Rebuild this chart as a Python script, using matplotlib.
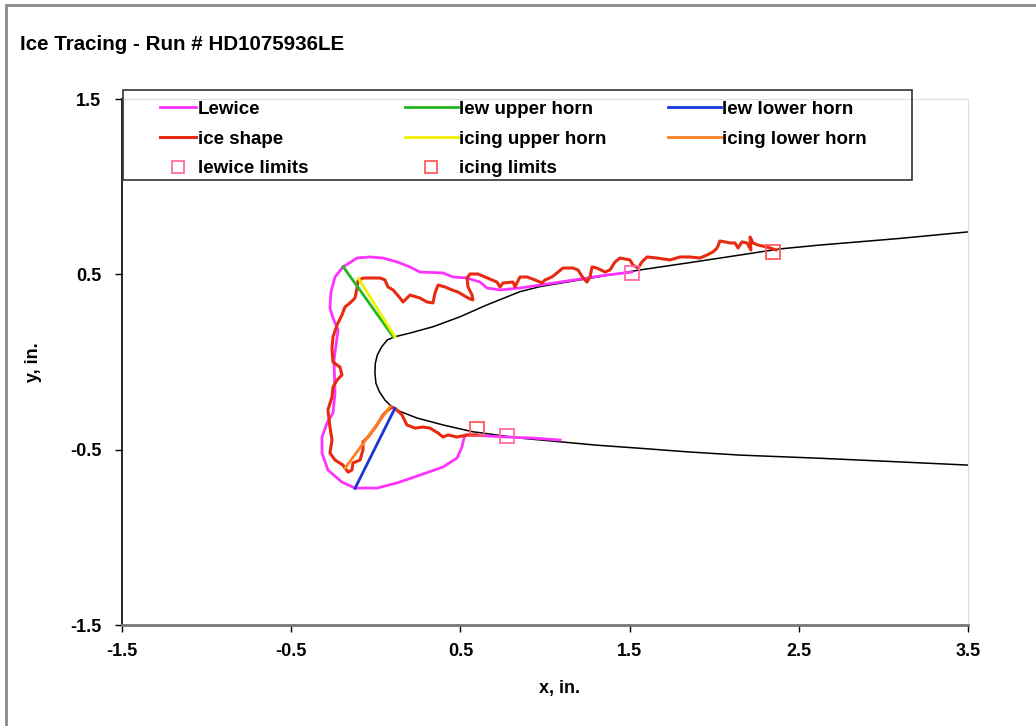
import matplotlib
matplotlib.use('Agg')
import matplotlib.pyplot as plt
from matplotlib.patches import Rectangle

plt.rcParams['font.family'] = ['Liberation Sans', 'DejaVu Sans']
plt.rcParams['font.weight'] = 'bold'
plt.rcParams['axes.unicode_minus'] = False

title = 'Ice Tracing - Run # HD1075936LE'

# clean airfoil, upper trailing -> nose -> lower trailing
airfoil_x = [3.5, 3.1, 2.625, 2.389, 2.152, 1.857, 1.561, 1.266, 0.970, 0.852, 0.655,
             0.498, 0.338, 0.202, 0.113, 0.068, 0.035, 0.009, -0.003, -0.005, 0.001,
             0.021, 0.054, 0.094, 0.133, 0.242, 0.397, 0.574, 0.852, 1.089, 1.3, 1.561,
             1.85, 2.152, 2.625, 3.1, 3.5]
airfoil_y = [0.742, 0.705, 0.667, 0.645, 0.610, 0.567, 0.525, 0.478, 0.430, 0.401, 0.325,
             0.258, 0.201, 0.165, 0.144, 0.126, 0.087, 0.040, -0.008, -0.065, -0.122,
             -0.169, -0.217, -0.255, -0.278, -0.319, -0.359, -0.398, -0.434, -0.455, -0.474, -0.492,
             -0.513, -0.531, -0.549, -0.570, -0.588]

# Lewice predicted shape
lewice_x = [1.514, 1.366, 1.248, 1.089, 0.970, 0.852, 0.734, 0.657, 0.616, 0.539, 0.456,
            0.397, 0.261, 0.202, 0.125, 0.043, -0.034, -0.111, -0.194, -0.241, -0.265,
            -0.271, -0.253, -0.223, -0.235, -0.247, -0.241, -0.253, -0.288, -0.318, -0.318,
            -0.283, -0.200, -0.123, 0.007, 0.125, 0.261, 0.397, 0.480, 0.509, 0.521, 0.533,
            0.598, 0.775, 0.929, 1.089]
lewice_y = [0.513, 0.496, 0.479, 0.456, 0.439, 0.422, 0.411, 0.422, 0.456, 0.479, 0.485,
            0.508, 0.513, 0.542, 0.571, 0.593, 0.599, 0.593, 0.542, 0.485, 0.399,
            0.308, 0.251, 0.183, 0.097, 0.011, -0.177, -0.291, -0.348, -0.428, -0.519,
            -0.616, -0.685, -0.719, -0.719, -0.690, -0.645, -0.599, -0.548, -0.485, -0.434,
            -0.416, -0.419, -0.428, -0.434, -0.445]

# traced ice shape
ice_x = [2.365, 2.312, 2.259, 2.229, 2.212, 2.217, 2.194, 2.164, 2.141, 2.123, 2.093,
         2.064, 2.034, 2.017, 1.993, 1.957, 1.916, 1.857, 1.798, 1.739, 1.662, 1.603,
         1.573, 1.550, 1.520, 1.502, 1.443, 1.414, 1.384, 1.355, 1.307, 1.278, 1.266,
         1.248, 1.225, 1.195, 1.165, 1.106, 1.071, 1.041, 1.000, 0.982, 0.941, 0.894,
         0.852, 0.834, 0.823, 0.811, 0.752, 0.734, 0.716, 0.645, 0.604, 0.557, 0.539,
         0.545, 0.569, 0.574, 0.545, 0.486, 0.450, 0.409, 0.368, 0.350, 0.338, 0.303,
         0.261, 0.202, 0.161, 0.143, 0.102, 0.072, 0.054, 0.025, -0.076, -0.105, -0.111,
         -0.123, -0.152, -0.182, -0.200, -0.229, -0.253, -0.259, -0.253, -0.212, -0.200,
         -0.229, -0.253, -0.259, -0.283, -0.271, -0.259, -0.271, -0.241, -0.194, -0.164,
         -0.141, -0.135, -0.093, -0.076, -0.076, -0.046, 0.007, 0.043, 0.072, 0.096,
         0.125, 0.155, 0.184, 0.232, 0.279, 0.320, 0.368, 0.397, 0.427, 0.480, 0.539, 0.598]
ice_y = [0.639, 0.656, 0.667, 0.679, 0.713, 0.639, 0.679, 0.685, 0.650, 0.679, 0.679,
         0.685, 0.690, 0.650, 0.628, 0.610, 0.593, 0.599, 0.599, 0.582, 0.593, 0.599,
         0.571, 0.536, 0.553, 0.582, 0.593, 0.571, 0.525, 0.513, 0.536, 0.542, 0.485,
         0.456, 0.479, 0.525, 0.536, 0.536, 0.508, 0.485, 0.468, 0.451, 0.468, 0.485,
         0.485, 0.451, 0.428, 0.456, 0.451, 0.428, 0.456, 0.485, 0.502, 0.502, 0.479,
         0.428, 0.382, 0.354, 0.365, 0.399, 0.411, 0.428, 0.439, 0.394, 0.337, 0.342,
         0.365, 0.382, 0.342, 0.365, 0.411, 0.428, 0.468, 0.479, 0.479, 0.462, 0.422,
         0.365, 0.337, 0.314, 0.268, 0.211, 0.143, 0.080, 0.0, -0.029, -0.074,
         -0.103, -0.143, -0.200, -0.274, -0.371, -0.445, -0.519, -0.559, -0.588, -0.628,
         -0.616, -0.576, -0.559, -0.502, -0.456, -0.428, -0.359, -0.302, -0.274, -0.257,
         -0.274, -0.302, -0.359, -0.377, -0.371, -0.377, -0.405, -0.428, -0.416, -0.428, -0.416, -0.416]

# horn lines (start, end)
lew_upper_x, lew_upper_y = [-0.193, 0.103], [0.544, 0.144]
icing_upper_x, icing_upper_y = [-0.103, 0.113], [0.478, 0.144]
lew_lower_x, lew_lower_y = [-0.123, 0.113], [-0.721, -0.264]
icing_lower_x, icing_lower_y = [-0.182, 0.084], [-0.606, -0.255]

# limit markers
lewice_lim_x, lewice_lim_y = [1.512, 0.773], [0.506, -0.420]
icing_lim_x, icing_lim_y = [2.345, 0.598], [0.626, -0.382]

W, H = 1036, 726
fig = plt.figure(figsize=(W / 100, H / 100), dpi=100)
ax = fig.add_axes([122 / W, 1 - 625 / H, (968 - 122) / W, (625 - 99) / H])

ax.plot(airfoil_x, airfoil_y, color='black', lw=1.1, zorder=2)
h_lew, = ax.plot(lewice_x, lewice_y, color='#ff33ff', lw=2.0, label='Lewice', zorder=3)
h_ice, = ax.plot(ice_x, ice_y, color='#e82a10', lw=2.2, label='ice shape', zorder=4)
h_lu, = ax.plot(lew_upper_x, lew_upper_y, color='#22b822', lw=2.0, label='lew upper horn', zorder=5)
h_iu, = ax.plot(icing_upper_x, icing_upper_y, color='#f0f000', lw=2.0, label='icing upper horn', zorder=5)
h_ll, = ax.plot(lew_lower_x, lew_lower_y, color='#1a35d8', lw=2.0, label='lew lower horn', zorder=5)
h_il, = ax.plot(icing_lower_x, icing_lower_y, color='#ff8020', lw=2.0, label='icing lower horn', zorder=5)
h_ll_m, = ax.plot(lewice_lim_x, lewice_lim_y, 's', mfc='none', mec='#ff6aa8', mew=1.3, ms=10,
                  label='lewice limits', zorder=6)
h_il_m, = ax.plot(icing_lim_x, icing_lim_y, 's', mfc='none', mec='#ff5a5a', mew=1.3, ms=10,
                  label='icing limits', zorder=6)

ax.set_xlim(-1.5, 3.5)
ax.set_ylim(-1.5, 1.5)
ax.set_xticks([-1.5, -0.5, 0.5, 1.5, 2.5, 3.5])
ax.set_yticks([-1.5, -0.5, 0.5, 1.5])
ax.tick_params(labelsize=13, length=5, width=1, direction='out')
ax.tick_params(axis='y', pad=10)
ax.tick_params(axis='x', pad=8)
for lab in ax.get_xticklabels() + ax.get_yticklabels():
    lab.set_fontweight('bold')
ax.spines['left'].set_color('black')
ax.spines['left'].set_linewidth(1.2)
ax.spines['bottom'].set_color('#777777')
ax.spines['bottom'].set_linewidth(2.0)
ax.spines['top'].set_color('#dddddd')
ax.spines['right'].set_color('#dddddd')

fig.text(560 / W, 1 - 688 / H, 'x, in.', ha='center', va='center', fontsize=13, fontweight='bold')
fig.text(33 / W, 1 - 362 / H, 'y, in.', ha='center', va='center', rotation=90,
         fontsize=13, fontweight='bold')
fig.text(20 / W, 1 - 44 / H, title, ha='left', va='center', fontsize=14.8, fontweight='bold')

# legend: frame plus three column legends placed like the reference
fig.patches.append(Rectangle((123 / W, 1 - 180 / H), (912 - 123) / W, 90 / H,
                             transform=fig.transFigure, fill=False, edgecolor='#333333',
                             lw=1.2, zorder=9))
columns = [([h_lew, h_ice, h_ll_m], 160, 1.9),
           ([h_lu, h_iu, h_il_m], 405, 2.8),
           ([h_ll, h_il], 668, 2.8)]
for hs, x0, hl in columns:
    lg = fig.legend(handles=hs, loc='upper left', bbox_to_anchor=(x0 / W, 1 - 100.5 / H),
                    fontsize=13.5, frameon=False, handlelength=hl, handletextpad=0.1,
                    borderpad=0, borderaxespad=0, labelspacing=0.68, markerscale=0.8)
    lg.set_zorder(10)
    for t in lg.get_texts():
        t.set_fontweight('bold')

fig.patches.append(Rectangle((6 / W, -0.1), 1.2, 1.1 - 5 / H, transform=fig.transFigure,
                             fill=False, edgecolor='#8a8a8a', lw=2.0))

fig.savefig('out.png', dpi=100)
